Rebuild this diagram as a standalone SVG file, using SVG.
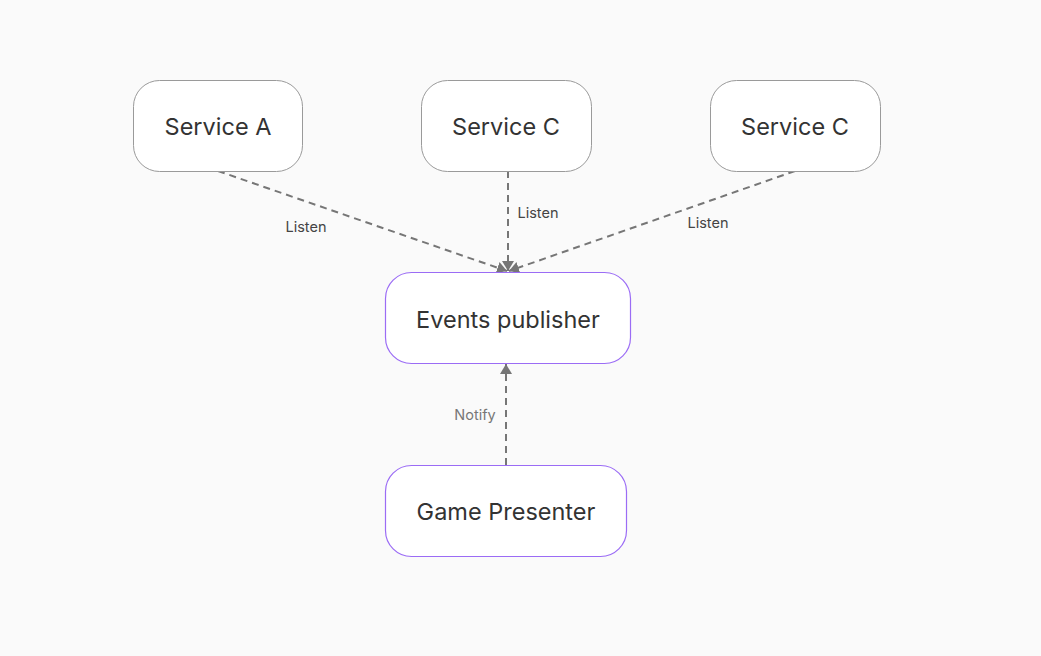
<svg xmlns="http://www.w3.org/2000/svg" width="1041" height="656" viewBox="0 0 1041 656">
<style>
.svc rect{fill:#fff;stroke:#9a9a9a;stroke-width:1}
.pub rect{fill:#fff;stroke:#9b6cf5;stroke-width:1.2}
.t{font-family:Inter,"Noto Sans",sans-serif;font-size:23.5px;fill:#333;text-anchor:middle;dominant-baseline:central}
.l{font-family:Inter,"Noto Sans",sans-serif;font-size:14.5px;fill:#444;text-anchor:middle;dominant-baseline:central}
.c line{stroke:#767676;stroke-width:2;stroke-dasharray:7 5;fill:none}
</style>
<defs>
<marker id="ah" viewBox="0 0 10 12" refX="10" refY="6" markerWidth="10" markerHeight="12" orient="auto" markerUnits="userSpaceOnUse">
<path d="M0,0 L10,6 L0,12 z" fill="#767676"/>
</marker>
</defs>
<rect width="1041" height="656" fill="#fafafa"/>
<g id="connectors" class="c">
<line x1="218" y1="171" x2="507" y2="271" marker-end="url(#ah)"/>
<line x1="508" y1="171" x2="508" y2="271" marker-end="url(#ah)"/>
<line x1="795" y1="171" x2="509" y2="271" marker-end="url(#ah)"/>
<line x1="506" y1="465" x2="506" y2="364" marker-end="url(#ah)"/>
<text class="l" x="306" y="226">Listen</text>
<text class="l" x="538" y="212">Listen</text>
<text class="l" x="708" y="222">Listen</text>
<text class="l" x="475" y="414" style="fill:#777">Notify</text>
</g>
<g id="serviceA" class="svc"><rect x="133.5" y="80.5" width="169" height="91" rx="26"/><text class="t" x="218" y="126">Service A</text></g>
<g id="serviceC1" class="svc"><rect x="421.5" y="80.5" width="170" height="91" rx="26"/><text class="t" x="506" y="126">Service C</text></g>
<g id="serviceC2" class="svc"><rect x="710.5" y="80.5" width="170" height="91" rx="26"/><text class="t" x="795" y="126">Service C</text></g>
<g id="eventsPublisher" class="pub"><rect x="385.5" y="272.5" width="245" height="91" rx="26"/><text class="t" x="508" y="319">Events publisher</text></g>
<g id="gamePresenter" class="pub"><rect x="385.5" y="465.5" width="241" height="91" rx="26"/><text class="t" x="506" y="511">Game Presenter</text></g>
</svg>
